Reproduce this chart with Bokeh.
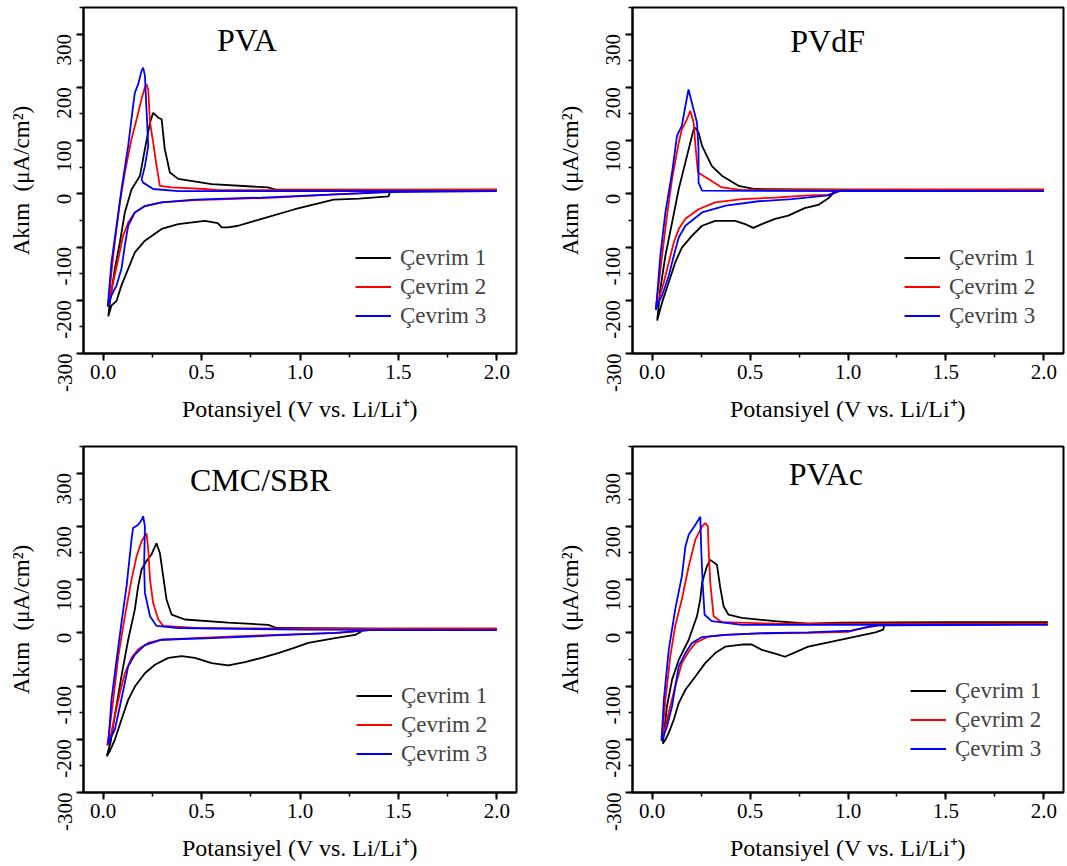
import math
from bokeh.plotting import figure
from bokeh.layouts import gridplot
from bokeh.models import Range1d, SingleIntervalTicker, Label, Legend, LegendItem, PrintfTickFormatter
from bokeh.embed import file_html
from bokeh.resources import INLINE

# ---------------- data ----------------
panel_titles = ["PVA", "PVdF", "CMC/SBR", "PVAc"]
cycle_labels = ["Çevrim 1", "Çevrim 2", "Çevrim 3"]
cycle_colors = ["#000000", "#ff0000", "#0000ff"]
x_label = "Potansiyel (V vs. Li/Li\u207a)"
y_label = "Ak\u0131m\u00a0\u00a0(\u03bcA/cm\u00b2)"

# PVA
pva_c1_v = [1.46, 1.45, 1.30, 1.171, 0.974, 0.805, 0.686, 0.635, 0.602, 0.582, 0.517, 0.381, 0.297, 0.212, 0.161, 0.127, 0.093, 0.068, 0.042, 0.026,
            0.034, 0.059, 0.085, 0.110, 0.144, 0.187, 0.212, 0.238, 0.254, 0.280, 0.297, 0.313, 0.339, 0.381, 0.551, 0.837, 0.876, 1.2, 1.6, 2.0]
pva_c1_i = [7, -5, -9, -11, -29, -47, -60, -63, -63, -55, -51, -57, -66, -88, -110, -141, -172, -201, -210, -230,
            -204, -141, -91, -35, 8, 34, 84, 134, 152, 143, 140, 84, 40, 28, 18, 12, 8, 8, 8, 8]
pva_c2_v = [2.0, 1.45, 1.30, 1.178, 0.872, 0.635, 0.466, 0.297, 0.212, 0.161, 0.127, 0.101, 0.077, 0.051, 0.026,
            0.042, 0.059, 0.085, 0.110, 0.144, 0.170, 0.195, 0.212, 0.220, 0.229, 0.238, 0.254, 0.271, 0.288, 0.347, 0.517, 0.582, 1.0, 2.0]
pva_c2_i = [7, 4, 1, -1, -7, -10, -12, -16, -23, -35, -54, -79, -122, -166, -212,
            -147, -91, -16, 40, 103, 140, 178, 200, 206, 196, 134, 96, 53, 15, 12, 9, 7, 7, 8]
pva_c3_v = [2.0, 1.45, 1.178, 0.805, 0.466, 0.297, 0.212, 0.161, 0.127, 0.110, 0.093, 0.068, 0.042, 0.023,
            0.042, 0.068, 0.093, 0.127, 0.152, 0.161, 0.178, 0.195, 0.203, 0.212, 0.220, 0.229, 0.212, 0.195, 0.203, 0.254, 0.381, 1.0, 2.0]
pva_c3_i = [5, 3, -1, -7, -11, -16, -23, -35, -60, -97, -141, -172, -191, -212,
            -129, -60, 8, 90, 165, 190, 206, 231, 237, 222, 159, 90, 52, 27, 21, 9, 5, 5, 5]

# PVdF
pvdf_c1_v = [0.925, 0.922, 0.898, 0.848, 0.779, 0.695, 0.628, 0.560, 0.517, 0.475, 0.424, 0.322, 0.255, 0.203, 0.152, 0.118, 0.085, 0.051, 0.026,
             0.042, 0.068, 0.102, 0.136, 0.170, 0.195, 0.212, 0.220, 0.237, 0.255, 0.305, 0.356, 0.441, 0.525, 1.0, 2.0]
pvdf_c1_i = [5, 0, -9, -21, -27, -41, -47, -57, -64, -57, -51, -51, -60, -79, -101, -129, -166, -204, -238,
             -179, -116, -54, 9, 59, 96, 121, 124, 115, 90, 52, 34, 15, 9, 8, 8]
pvdf_c2_v = [2.0, 0.96, 0.898, 0.797, 0.628, 0.458, 0.322, 0.237, 0.170, 0.136, 0.111, 0.085, 0.060, 0.034, 0.019,
             0.031, 0.051, 0.076, 0.102, 0.136, 0.152, 0.178, 0.195, 0.212, 0.220, 0.234, 0.288, 0.356, 0.458, 1.0, 2.0]
pvdf_c2_i = [7, 5, -2, -3, -7, -10, -16, -29, -47, -66, -91, -129, -166, -198, -215,
             -179, -116, -41, 28, 96, 121, 140, 156, 134, 96, 40, 28, 12, 7, 8, 8]
pvdf_c3_v = [2.0, 0.957, 0.898, 0.712, 0.543, 0.376, 0.255, 0.170, 0.136, 0.111, 0.085, 0.051, 0.026, 0.019,
             0.026, 0.042, 0.068, 0.102, 0.127, 0.152, 0.170, 0.186, 0.203, 0.229, 0.237, 0.237, 0.255, 1.0, 2.0]
pvdf_c3_i = [5, 6, -3, -10, -14, -22, -35, -60, -82, -116, -154, -191, -210, -218,
             -191, -116, -35, 40, 109, 128, 165, 196, 171, 134, 84, 21, 6, 5, 5]

# CMC/SBR
cmc_c1_v = [1.32, 1.31, 1.28, 1.178, 1.042, 0.974, 0.889, 0.805, 0.720, 0.635, 0.551, 0.466, 0.399, 0.331, 0.263, 0.212, 0.161, 0.127, 0.093, 0.059, 0.034, 0.018,
            0.038, 0.059, 0.093, 0.127, 0.161, 0.178, 0.195, 0.220, 0.245, 0.263, 0.271, 0.288, 0.305, 0.322, 0.348, 0.415, 0.635, 0.839, 0.881, 1.4, 2.0]
cmc_c1_i = [7, 2, -4, -10, -19, -28, -38, -47, -55, -61, -57, -47, -44, -47, -60, -76, -101, -126, -163, -201, -222, -232,
            -205, -156, -81, -13, 44, 88, 119, 135, 147, 162, 168, 150, 106, 62, 34, 25, 19, 15, 9, 8, 8]
cmc_c2_v = [2.0, 1.35, 1.2, 0.872, 0.635, 0.466, 0.297, 0.229, 0.178, 0.144, 0.110, 0.085, 0.059, 0.034, 0.021,
            0.051, 0.077, 0.110, 0.144, 0.170, 0.195, 0.220, 0.229, 0.238, 0.254, 0.280, 0.305, 0.466, 1.0, 2.0]
cmc_c2_i = [7, 5, 0, -4, -7, -10, -13, -19, -31, -47, -76, -113, -156, -201, -212,
            -126, -44, 31, 100, 144, 172, 187, 156, 100, 56, 25, 13, 9, 8, 8]
cmc_c3_v = [2.0, 1.35, 1.178, 0.872, 0.551, 0.297, 0.212, 0.161, 0.127, 0.110, 0.085, 0.059, 0.034, 0.026,
            0.042, 0.068, 0.093, 0.119, 0.144, 0.152, 0.178, 0.195, 0.203, 0.212, 0.208, 0.212, 0.238, 0.271, 0.381, 1.0, 2.0]
cmc_c3_i = [5, 5, 0, -5, -10, -13, -23, -41, -63, -94, -138, -182, -201, -210,
            -126, -51, 19, 88, 175, 197, 203, 212, 219, 200, 125, 75, 31, 13, 9, 6, 5]

# PVAc
pvac_c1_v = [1.185, 1.18, 1.14, 0.966, 0.797, 0.678, 0.628, 0.560, 0.509, 0.458, 0.373, 0.322, 0.271, 0.221, 0.170, 0.136, 0.111, 0.085, 0.068, 0.055,
             0.076, 0.102, 0.136, 0.187, 0.229, 0.246, 0.255, 0.280, 0.297, 0.331, 0.347, 0.365, 0.390, 0.458, 0.628, 0.797, 0.966, 1.5, 2.02]
pvac_c1_i = [14, 6, 1, -13, -26, -45, -39, -32, -22, -22, -26, -38, -57, -82, -107, -132, -163, -188, -201, -208,
             -138, -88, -51, -13, 31, 63, 94, 125, 137, 128, 87, 50, 34, 28, 22, 17, 19, 20, 20]
pvac_c2_v = [2.02, 1.15, 1.053, 1.004, 0.797, 0.543, 0.373, 0.288, 0.221, 0.187, 0.152, 0.118, 0.093, 0.068, 0.050,
             0.068, 0.093, 0.118, 0.152, 0.187, 0.221, 0.255, 0.271, 0.285, 0.288, 0.297, 0.314, 0.356, 0.628, 2.02]
pvac_c2_i = [17, 14, 7, 2, 0, -1, -4, -7, -19, -35, -57, -101, -138, -176, -200,
             -126, -44, 13, 63, 125, 175, 200, 206, 200, 162, 94, 31, 20, 17, 17]
pvac_c3_v = [2.02, 1.16, 1.102, 1.017, 0.797, 0.543, 0.373, 0.255, 0.203, 0.170, 0.136, 0.118, 0.102, 0.076, 0.055, 0.048,
             0.060, 0.085, 0.118, 0.152, 0.170, 0.187, 0.221, 0.246, 0.251, 0.258, 0.268, 0.305, 0.458, 2.02]
pvac_c3_i = [15, 14, 11, 4, 1, -1, -4, -8, -19, -38, -63, -101, -138, -176, -198, -203,
             -126, -32, 44, 106, 162, 184, 203, 218, 156, 94, 34, 22, 15, 15]

panel_curves = [
    [(pva_c1_v, pva_c1_i), (pva_c2_v, pva_c2_i), (pva_c3_v, pva_c3_i)],
    [(pvdf_c1_v, pvdf_c1_i), (pvdf_c2_v, pvdf_c2_i), (pvdf_c3_v, pvdf_c3_i)],
    [(cmc_c1_v, cmc_c1_i), (cmc_c2_v, cmc_c2_i), (cmc_c3_v, cmc_c3_i)],
    [(pvac_c1_v, pvac_c1_i), (pvac_c2_v, pvac_c2_i), (pvac_c3_v, pvac_c3_i)],
]

# ---------------- layout / style ----------------
FONT = "Liberation Serif"
title_pos = [(0.73, 289), (0.896, 287), (0.798, 288), (0.887, 298)]
legend_pos = [(272, 23), (272, 23), (273, 24), (278, 29)]
# width, height, left, right, top, bottom
fig_geom = [
    (540, 438, 83, 24, 7, 85),
    (525, 438, 92, 2, 7, 85),
    (540, 428, 83, 24, 8, 74),
    (525, 428, 92, 2, 8, 74),
]


def make_panel(k):
    w, h, bl, br, bt, bb = fig_geom[k]
    p = figure(width=w, height=h, x_range=Range1d(-0.1, 2.1), y_range=Range1d(-300, 350),
               output_backend="svg", toolbar_location=None,
               min_border_left=bl, min_border_right=br, min_border_top=bt, min_border_bottom=bb)
    p.grid.visible = False
    p.outline_line_color = "black"
    p.outline_line_width = 2
    p.background_fill_color = "white"
    p.border_fill_color = "white"

    p.xaxis.ticker = SingleIntervalTicker(interval=0.5, num_minor_ticks=2)
    p.yaxis.ticker = SingleIntervalTicker(interval=100, num_minor_ticks=2)
    p.xaxis.formatter = PrintfTickFormatter(format="%.1f")
    p.yaxis.formatter = PrintfTickFormatter(format="%d")
    for ax in (p.xaxis[0], p.yaxis[0]):
        ax.axis_line_width = 2
        ax.major_tick_line_width = 2
        ax.minor_tick_line_width = 1.5
        ax.major_tick_in = 0
        ax.major_tick_out = 7
        ax.minor_tick_in = 0
        ax.minor_tick_out = 4
        ax.major_label_text_font = FONT
        ax.major_label_text_font_size = "21px"
        ax.major_label_text_color = "black"
        ax.axis_label_text_font = FONT
        ax.axis_label_text_font_style = "normal"
        ax.axis_label_text_color = "black"
    p.xaxis.axis_label = x_label
    p.yaxis.axis_label = y_label
    p.xaxis.axis_label_text_font_size = "24px"
    p.yaxis.axis_label_text_font_size = "23px"
    p.xaxis.major_label_standoff = 4
    p.xaxis.axis_label_standoff = 14
    p.yaxis.major_label_standoff = 12
    p.yaxis.axis_label_standoff = 14
    p.yaxis.major_label_orientation = math.pi / 2

    items = []
    for (v, i), lab, col in zip(panel_curves[k], cycle_labels, cycle_colors):
        r = p.line(v, i, line_color=col, line_width=1.8)
        items.append(LegendItem(label=lab, renderers=[r]))
    leg = Legend(items=items, location=legend_pos[k], background_fill_alpha=0, border_line_alpha=0,
                 padding=0, margin=0, spacing=0, label_height=29, glyph_height=29, glyph_width=36,
                 label_standoff=9, label_text_font=FONT, label_text_font_size="23px")
    p.add_layout(leg)

    tx, ty = title_pos[k]
    p.add_layout(Label(x=tx, y=ty, text=panel_titles[k], text_align="center", text_baseline="middle",
                       text_font=FONT, text_font_size="32px", text_color="black"))
    return p


plots = [make_panel(k) for k in range(4)]
grid = gridplot([[plots[0], plots[1]], [plots[2], plots[3]]], toolbar_location=None)

open("out.html", "w").write(file_html(grid, INLINE))
